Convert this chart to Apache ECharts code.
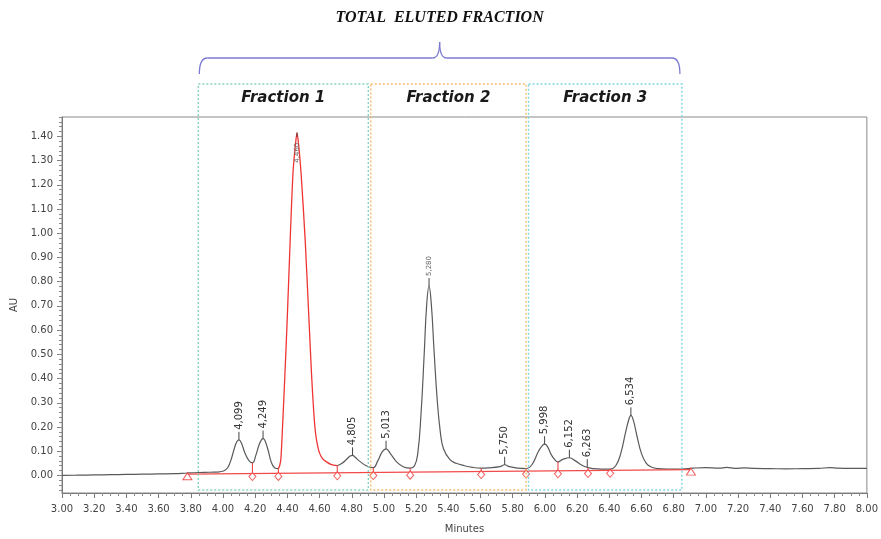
<!DOCTYPE html>
<html>
<head>
<meta charset="utf-8">
<script src="https://cdn.jsdelivr.net/npm/echarts@6/dist/echarts.min.js"></script>
<style>
  html, body { margin: 0; padding: 0; background: #fff; }
  #chart { width: 881px; height: 539px; }
</style>
</head>
<body>
<div id="chart"></div>
<script>
// Detector trace before the main peak (minutes, AU)
const traceTimeA = [3.00, 3.10, 3.20, 3.30, 3.40, 3.50, 3.60, 3.70, 3.78, 3.85, 3.92, 3.98, 4.02, 4.045, 4.07, 4.085, 4.099, 4.115, 4.135, 4.16, 4.183, 4.205, 4.225, 4.24, 4.249, 4.26, 4.28, 4.30, 4.32, 4.344];
const traceAUA = [0.000, 0.001, 0.002, 0.003, 0.004, 0.005, 0.006, 0.007, 0.010, 0.012, 0.013, 0.015, 0.025, 0.055, 0.110, 0.138, 0.147, 0.133, 0.095, 0.062, 0.052, 0.085, 0.128, 0.148, 0.152, 0.145, 0.105, 0.055, 0.032, 0.028];

// Detector trace after the main peak
const traceTimeB = [4.71, 4.74, 4.77, 4.79, 4.805, 4.82, 4.85, 4.89, 4.934, 4.96, 4.99, 5.013, 5.04, 5.08, 5.12, 5.163, 5.19, 5.21, 5.23, 5.25, 5.265, 5.28, 5.295, 5.31, 5.33, 5.35, 5.37, 5.41, 5.45, 5.50, 5.55, 5.604, 5.65, 5.72, 5.75, 5.78, 5.83, 5.883, 5.92, 5.96, 5.985, 5.998, 6.015, 6.04, 6.065, 6.081, 6.11, 6.152, 6.19, 6.23, 6.268, 6.30, 6.35, 6.405, 6.44, 6.47, 6.50, 6.52, 6.534, 6.55, 6.57, 6.60, 6.63, 6.66, 6.70, 6.76, 6.85, 6.92, 7.00, 7.08, 7.13, 7.18, 7.24, 7.30, 7.40, 7.50, 7.60, 7.70, 7.77, 7.82, 7.90, 8.00];
const traceAUB = [0.040, 0.050, 0.068, 0.080, 0.083, 0.076, 0.058, 0.040, 0.032, 0.058, 0.098, 0.110, 0.090, 0.055, 0.036, 0.030, 0.040, 0.090, 0.250, 0.500, 0.700, 0.782, 0.700, 0.530, 0.320, 0.180, 0.110, 0.065, 0.050, 0.040, 0.033, 0.030, 0.031, 0.036, 0.044, 0.036, 0.030, 0.028, 0.045, 0.100, 0.124, 0.129, 0.120, 0.085, 0.062, 0.056, 0.066, 0.073, 0.060, 0.042, 0.032, 0.028, 0.026, 0.026, 0.040, 0.088, 0.175, 0.228, 0.248, 0.226, 0.168, 0.090, 0.050, 0.035, 0.028, 0.026, 0.026, 0.030, 0.032, 0.030, 0.033, 0.029, 0.031, 0.029, 0.028, 0.027, 0.028, 0.029, 0.032, 0.030, 0.029, 0.029];

// Main peak (highlighted)
const mainPeakTime = [4.344, 4.352, 4.36, 4.37, 4.385, 4.40, 4.418, 4.435, 4.45, 4.460, 4.47, 4.485, 4.51, 4.533, 4.55, 4.564, 4.575, 4.587, 4.60, 4.62, 4.645, 4.67, 4.71];
const mainPeakAU = [0.028, 0.040, 0.070, 0.200, 0.420, 0.660, 0.980, 1.250, 1.365, 1.415, 1.365, 1.250, 0.980, 0.660, 0.420, 0.260, 0.175, 0.125, 0.092, 0.068, 0.055, 0.046, 0.040];

// Integration baseline, start and end
const baselineTime = [3.779, 6.907];
const baselineAU = [0.005, 0.024];

// Peak boundaries: time, baseline level, trace level
const valleyTime = [4.183, 4.344, 4.710, 4.934, 5.163, 5.604, 5.883, 6.081, 6.268, 6.405];
const valleyBaseAU = [0.0075, 0.0084, 0.0107, 0.0120, 0.0134, 0.0161, 0.0178, 0.0190, 0.0201, 0.0209];
const valleyTraceAU = [0.052, 0.028, 0.040, 0.032, 0.030, 0.030, 0.028, 0.056, 0.032, 0.026];

// Peak apexes (retention time, AU)
const peakTime = [4.099, 4.249, 4.460, 4.805, 5.013, 5.280, 5.750, 5.998, 6.152, 6.263, 6.534];
const peakAU = [0.147, 0.152, 1.415, 0.083, 0.110, 0.782, 0.044, 0.129, 0.073, 0.034, 0.248];

// Collected fractions
const fractionEdges = [3.847, 4.909, 5.889, 6.851];
const fractionNames = ['Fraction 1', 'Fraction 2', 'Fraction 3'];
const fractionColors = ['#86d3bf', '#f5bd6e', '#7fd4e2'];
const totalLabel = 'TOTAL  ELUTED FRACTION';

// Axis ticks
const yTickValues = [0, 0.1, 0.2, 0.3, 0.4, 0.5, 0.6, 0.7, 0.8, 0.9, 1.0, 1.1, 1.2, 1.3, 1.4];
const yMin = -0.0726, yMax = 1.48;
const yMinorValues = [];
for (let k = -3; k <= 74; k++) yMinorValues.push(+(k * 0.02).toFixed(2));

const pairs = (xs, ys) => xs.map((x, i) => [x, ys[i]]);
const fmtRT = v => v.toFixed(3).replace('.', ',');

const chart = echarts.init(document.getElementById('chart'));
const axisGray = '#7a7a7a';
const labelFont = 'DejaVu Sans';

chart.setOption({
  animation: false,
  grid: { left: 62, right: 13, top: 117, bottom: 37, show: true, borderColor: '#8a8a8a', borderWidth: 1 },
  xAxis: {
    type: 'value', min: 3, max: 8, interval: 0.2,
    axisLine: { onZero: false, lineStyle: { color: axisGray } },
    axisTick: { length: 5, lineStyle: { color: axisGray } },
    minorTick: { show: true, splitNumber: 4, length: 3, lineStyle: { color: '#8a8a8a' } },
    splitLine: { show: false },
    axisLabel: { formatter: v => v.toFixed(2), color: '#444', fontSize: 10, fontFamily: labelFont, margin: 11 },
    name: 'Minutes', nameLocation: 'middle', nameGap: 31,
    nameTextStyle: { color: '#444', fontSize: 10, fontFamily: labelFont }
  },
  yAxis: [{
    type: 'value', min: yMin, max: yMax,
    axisLine: { onZero: false, lineStyle: { color: axisGray } },
    axisTick: { length: 5, customValues: yTickValues, lineStyle: { color: axisGray } },
    splitLine: { show: false },
    axisLabel: { customValues: yTickValues, formatter: v => v.toFixed(2), color: '#444', fontSize: 10, fontFamily: labelFont, margin: 9 },
    name: 'AU', nameLocation: 'middle', nameGap: 43,
    nameTextStyle: { color: '#444', fontSize: 10, fontFamily: labelFont }
  }, {
    type: 'value', min: yMin, max: yMax, position: 'left', offset: 0,
    axisLine: { show: false },
    axisTick: { length: 3, customValues: yMinorValues, lineStyle: { color: '#8a8a8a' } },
    axisLabel: { show: false },
    splitLine: { show: false }
  }],
  series: [
    {
      name: 'trace', type: 'line', data: pairs(traceTimeA, traceAUA).concat([[4.5, null]], pairs(traceTimeB, traceAUB)),
      showSymbol: false, smooth: 0.45, connectNulls: false,
      lineStyle: { color: '#5a5a5a', width: 1.2 }, z: 2
    },
    {
      name: 'baseline', type: 'line', data: pairs(baselineTime, baselineAU),
      showSymbol: false, lineStyle: { color: '#f24a4a', width: 1.2 }, z: 3
    },
    {
      name: 'main', type: 'line', data: pairs(mainPeakTime, mainPeakAU),
      showSymbol: false, smooth: 0.25,
      lineStyle: { color: '#f03434', width: 1.3 }, z: 4
    },
    {
      name: 'drops', type: 'custom', clip: false, z: 5,
      data: valleyTime.map((t, i) => [t, valleyBaseAU[i], valleyTraceAU[i]]),
      renderItem: (params, api) => {
        const p0 = api.coord([api.value(0), api.value(1)]);
        const p1 = api.coord([api.value(0), api.value(2)]);
        return { type: 'line', shape: { x1: p0[0], y1: p0[1], x2: p1[0], y2: p1[1] }, style: { stroke: '#f03434', lineWidth: 1 } };
      }
    },
    {
      name: 'valleys', type: 'scatter', data: pairs(valleyTime, valleyBaseAU),
      symbol: 'diamond', symbolSize: [7, 8], symbolOffset: [0, 3],
      itemStyle: { color: '#fff', borderColor: '#f03434', borderWidth: 1 }, z: 6
    },
    {
      name: 'ends', type: 'scatter', data: pairs(baselineTime, baselineAU),
      symbol: 'triangle', symbolSize: [9, 7], symbolOffset: [0, 2],
      itemStyle: { color: '#fff', borderColor: '#f03434', borderWidth: 1 }, z: 6
    },
    {
      name: 'peaks', type: 'custom', clip: false, z: 7,
      data: peakTime.map((t, i) => [t, peakAU[i]]),
      renderItem: (params, api) => {
        const t = api.value(0), v = api.value(1);
        const p = api.coord([t, v]);
        const big = v > 0.5;
        const fs = big ? 7 : 10;
        const text = fmtRT(t);
        const textLen = big ? 20 : 28;
        const top = params.coordSys.y;
        let tickTop = p[1] - 8;
        let anchorY = p[1] - 10;
        if (anchorY - textLen < top) {
          // no room above the apex: write the label down the peak
          tickTop = p[1] + 4;
          anchorY = p[1] + 10 + textLen;
        }
        return {
          type: 'group',
          children: [
            { type: 'line', shape: { x1: p[0], y1: p[1], x2: p[0], y2: tickTop }, style: { stroke: '#444', lineWidth: 1 } },
            {
              type: 'text', x: p[0], y: anchorY, rotation: Math.PI / 2,
              style: { text: text, fill: big ? '#666' : '#333', font: fs + 'px ' + labelFont, align: 'left', verticalAlign: 'middle' }
            }
          ]
        };
      }
    }
  ]
});

// Fraction windows, brace and heading, placed from the x scale
function drawFractions() {
  const px = t => chart.convertToPixel({ gridIndex: 0 }, [t, 0])[0];
  const gridBottom = chart.convertToPixel({ gridIndex: 0 }, [3, yMin])[1];
  const boxTop = 84, boxBottom = gridBottom - 3;
  const g = [];
  for (let i = 0; i < fractionNames.length; i++) {
    const x0 = px(fractionEdges[i]) + (i > 0 ? 1.5 : 0);
    const x1 = px(fractionEdges[i + 1]) - (i < fractionNames.length - 1 ? 1 : 0);
    g.push({
      type: 'rect', silent: true, z: 10,
      shape: { x: x0, y: boxTop, width: x1 - x0, height: boxBottom - boxTop },
      style: { fill: 'none', stroke: fractionColors[i], lineWidth: 1.4, lineDash: [2, 2] }
    });
    g.push({
      type: 'text', z: 11, x: (x0 + x1) / 2, y: 98,
      style: { text: fractionNames[i], font: 'italic bold 15px "DejaVu Sans"', fill: '#1a1a1a', align: 'center', verticalAlign: 'middle' }
    });
  }
  // curly brace over all three windows
  const bx0 = px(fractionEdges[0]) + 1;
  const bx1 = px(fractionEdges[3]) - 2;
  const bxc = (bx0 + bx1) / 2;
  const yb = 74, yh = 58, yt = 42;
  const braceStyle = { fill: 'none', stroke: '#7b7bd2', lineWidth: 1.3 };
  const curve = (x1, y1, cx, cy, x2, y2) => ({
    type: 'bezierCurve', silent: true, z: 10,
    shape: { x1: x1, y1: y1, cpx1: cx, cpy1: cy, x2: x2, y2: y2 }, style: braceStyle
  });
  const seg = (x1, y1, x2, y2) => ({
    type: 'line', silent: true, z: 10, shape: { x1: x1, y1: y1, x2: x2, y2: y2 }, style: braceStyle
  });
  g.push(curve(bx0, yb, bx0, yh, bx0 + 8, yh));
  g.push(seg(bx0 + 8, yh, bxc - 7, yh));
  g.push(curve(bxc - 7, yh, bxc, yh, bxc, yt));
  g.push(curve(bxc, yt, bxc, yh, bxc + 7, yh));
  g.push(seg(bxc + 7, yh, bx1 - 8, yh));
  g.push(curve(bx1 - 8, yh, bx1, yh, bx1, yb));
  g.push({
    type: 'text', z: 11, x: bxc, y: 18,
    style: { text: totalLabel, font: 'italic bold 16px "Liberation Serif"', fill: '#111', align: 'center', verticalAlign: 'middle' }
  });
  chart.setOption({ graphic: g });
}
drawFractions();
</script>
</body>
</html>
